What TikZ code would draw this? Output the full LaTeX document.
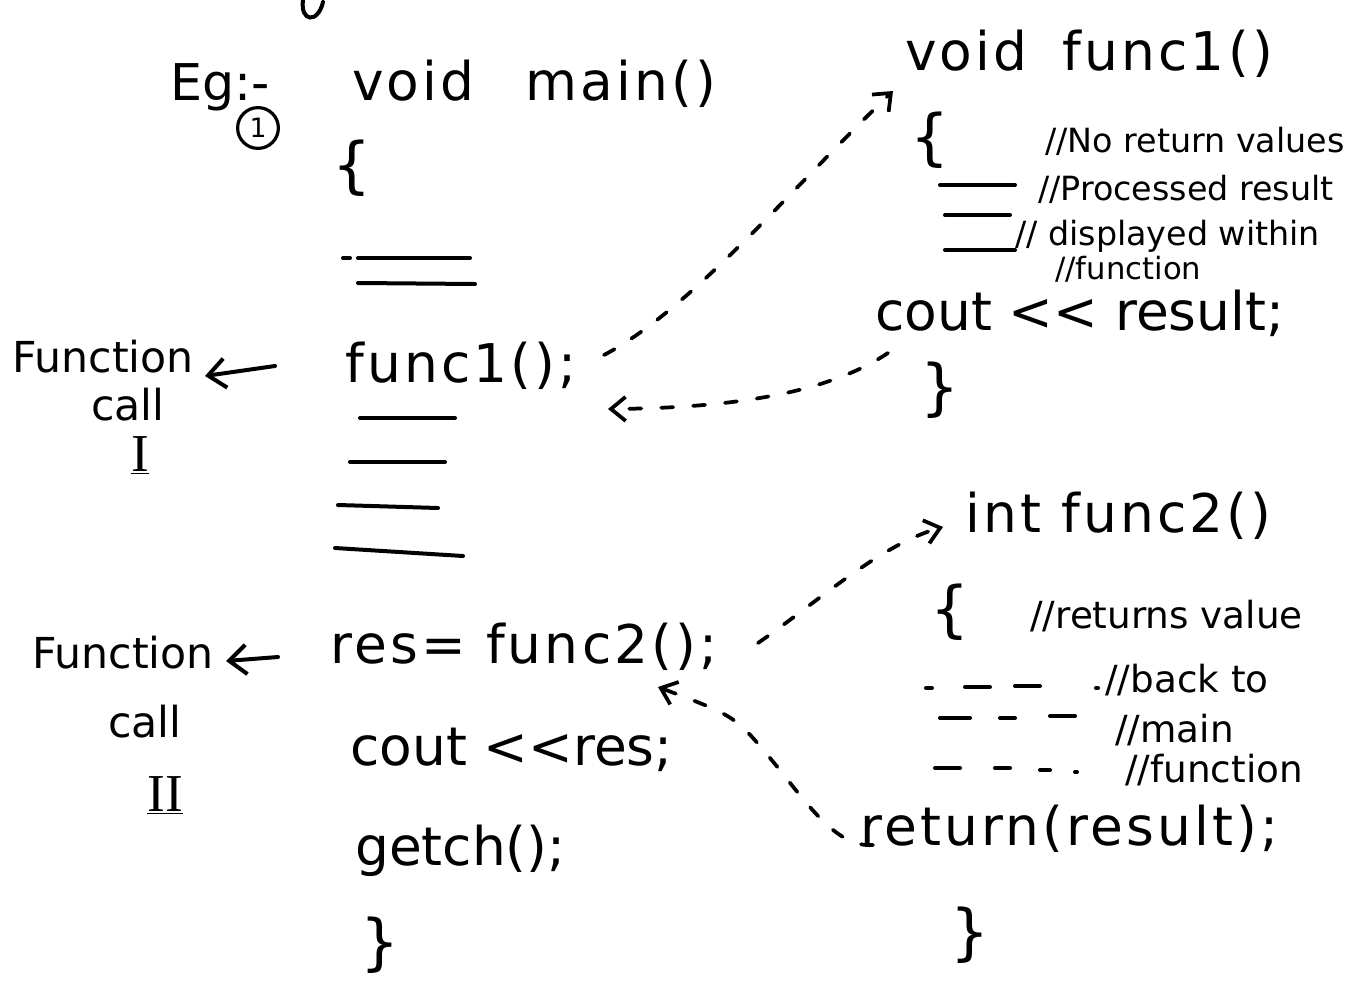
\documentclass[tikz,border=0pt]{standalone}
\usepackage{fontspec}
\setmainfont{DejaVu Sans}
\newfontfamily\codefont{DejaVu Sans}[LetterSpace=6]
\newfontfamily\numfont{Liberation Serif}
\usetikzlibrary{arrows.meta}
\tikzset{
  code/.style={anchor=base west, inner sep=0pt, font=\codefont\fontsize{40}{44}\selectfont},
  plaincode/.style={anchor=base west, inner sep=0pt, font=\fontsize{40}{44}\selectfont},
  cmt/.style={anchor=base west, inner sep=0pt, font=\fontsize{25}{28}\selectfont},
  lbl/.style={inner sep=0pt, font=\fontsize{32}{36}\selectfont},
  brace/.style={inner sep=0pt, font=\fontsize{46}{48}\selectfont},
  ink/.style={line width=3pt, line cap=round},
  flow/.style={line width=2.8pt, line cap=round, dash pattern=on 9pt off 15pt, -{Straight Barb[length=11pt,width=18pt,line width=2.8pt]}},
  callarrow/.style={line width=3pt, line cap=round, -{Straight Barb[length=13pt,width=22pt,line width=3pt]}},
}
\begin{document}
\begin{tikzpicture}[x=0.75pt,y=-0.75pt]
\useasboundingbox (0,0) rectangle (1353,985);
\fill[white] (0,0) rectangle (1353,985);
% fragment of a letter at the top edge
\draw[ink] (303,0) .. controls (300,22) and (318,24) .. (323,2);
% ---- main ----
\node[anchor=base west, inner sep=0pt, font=\fontsize{38}{40}\selectfont] (eg) at (170,100) {Eg:-};
\node[draw, circle, line width=2.4pt, inner sep=4pt, font=\fontsize{20}{22}\selectfont] (one) at (258,128) {1};
\node[code] (mainhead) at (352,100) {void\hspace{38pt}main()};
\node[brace] (ob1) at (352,168) {\{};
\draw[ink] (343,258) -- (350,258) (358,258) -- (470,258);
\draw[ink] (358,283) -- (475,284);
\node[code] (callone) at (345,382) {func1();};
\draw[ink] (360,418) -- (455,418);
\draw[ink] (350,462) -- (445,462);
\draw[ink] (338,505) -- (438,508);
\draw[ink] (335,548) -- (463,556);
\node[code] (calltwo) at (330,663) {res= func2();};
\node[plaincode] (coutres) at (350,765) {cout <\kern0pt<res;};
\node[plaincode] (getch) at (355,865) {getch();};
\node[brace] (cb1) at (380,945) {\}};
% ---- labels on the left ----
\node[lbl, anchor=base west] (fcone) at (12,372) {Function};
\node[lbl] (callI) at (128,405) {call};
\node[lbl, font=\numfont\fontsize{40}{40}\selectfont] (numI) at (140,455) {\underline{I}};
\node[lbl, anchor=base west] (fctwo) at (32,668) {Function};
\node[lbl] (callII) at (145,722) {call};
\node[lbl, font=\numfont\fontsize{40}{40}\selectfont] (numII) at (165,795) {\underline{II}};
\coordinate (fa1s) at (275,366);
\coordinate (fa1e) at (205,376);
\coordinate (fa2s) at (278,657);
\coordinate (fa2e) at (226,661);
\draw[callarrow] (fa1s) -- (fa1e);
\draw[callarrow] (fa2s) -- (fa2e);
% ---- func1 ----
\node[code] (fonehead) at (905,70) {void\hspace{26pt}func1()};
\node[brace] (ob2) at (930,140) {\{};
\node[cmt] (c1) at (1045,152) {//No return values};
\draw[ink] (940,185) -- (1015,185);
\node[cmt] (c2) at (1038,200) {//Processed result};
\draw[ink] (945,215) -- (1010,215);
\draw[ink] (945,250) -- (1015,250);
\node[cmt] (c3) at (1015,245) {// displayed within};
\node[cmt, font=\fontsize{23}{26}\selectfont] (c4) at (1055,279) {//function};
\node[plaincode] (coutresult) at (875,330) {cout <\kern0pt< result;};
\node[brace] (cb2) at (940,390) {\}};
% ---- func2 ----
\node[code] (ftwohead) at (965,532) {int func2()};
\node[brace] (ob3) at (950,612) {\{};
\node[cmt, font=\fontsize{28}{30}\selectfont] (c5) at (1030,628) {//returns value};
\draw[ink] (926,688) -- (932,688) (965,687) -- (990,687) (1015,686) -- (1040,686) (1096,688) -- (1098,688);
\node[cmt, font=\fontsize{28}{30}\selectfont] (c6) at (1105,692) {//back to};
\draw[ink] (940,718) -- (970,718) (1000,718) -- (1015,718) (1050,716) -- (1075,716);
\node[cmt, font=\fontsize{28}{30}\selectfont] (c7) at (1115,742) {//main};
\draw[ink] (935,768) -- (960,768) (995,768) -- (1010,768) (1040,770) -- (1050,770) (1075,772) -- (1077,772);
\node[cmt, font=\fontsize{28}{30}\selectfont] (c8) at (1125,782) {//function};
\node[code] (ret) at (860,845) {return(result);};
\node[brace] (cb3) at (970,935) {\}};
% ---- control flow connectors ----
\coordinate (a1s) at (604,355);
\coordinate (a1e) at (893,91);
\coordinate (a2s) at (888,353);
\coordinate (a2e) at (608,409);
\coordinate (a3s) at (758,643);
\coordinate (a3e) at (943,527);
\coordinate (a4s) at (873,845);
\coordinate (a4m) at (770,758);
\coordinate (a4e) at (658,687);
\draw[flow] (a1s) .. controls (690,310) and (790,190) .. (a1e);
\draw[flow] (a2s) .. controls (840,385) and (760,408) .. (a2e);
\draw[flow] (a3s) .. controls (820,600) and (880,545) .. (a3e);
\draw[flow] (a4s) .. controls (835,848) and (805,800) .. (a4m) .. controls (735,716) .. (a4e);
\end{tikzpicture}
\end{document}
